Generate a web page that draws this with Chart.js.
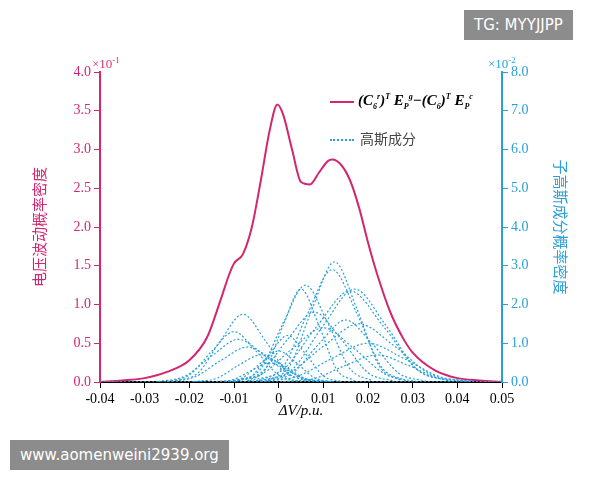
<!DOCTYPE html>
<html><head><meta charset="utf-8">
<script src="https://cdn.jsdelivr.net/npm/chart.js@4"></script>
<style>
body{margin:0;background:#fff;font-family:"Liberation Serif",serif}
#wrap{position:relative;width:600px;height:480px}
.tag{position:absolute;background:#8c8c8c;color:#fff;font-family:"DejaVu Sans",sans-serif;font-size:15px;padding:6px 10px}
.lab{position:absolute;font-size:13px}
</style></head>
<body><div id="wrap"><canvas id="c" width="600" height="480"></canvas>
<div class="tag" style="left:464px;top:10px">TG: MYYJJPP</div>
<div class="tag" style="left:10px;top:440px">www.aomenweini2939.org</div>
<div class="lab" style="left:92px;top:55px;color:#e0307a">×10<sup style="font-size:9px">-1</sup></div>
<div class="lab" style="left:488px;top:55px;color:#2aa0d8">×10<sup style="font-size:9px">-2</sup></div>
<div style="position:absolute;left:330px;top:92px;font-size:15px;font-style:italic;font-weight:bold;white-space:nowrap">
<span style="display:inline-block;width:24px;border-top:2px solid #d4266f;vertical-align:middle;margin-right:4px"></span>(<i>C</i><sub style="font-size:8px">6</sub><sup style="font-size:8px">r</sup>)<sup style="font-size:8px">T</sup> <i>E</i><sub style="font-size:8px">P</sub><sup style="font-size:8px">g</sup>−(<i>C</i><sub style="font-size:8px">6</sub>)<sup style="font-size:8px">T</sup> <i>E</i><sub style="font-size:8px">P</sub><sup style="font-size:8px">c</sup></div>
<div style="position:absolute;left:330px;top:128px;font-size:14px;font-family:'Noto Sans CJK SC';color:#444">
<span style="display:inline-block;width:24px;border-top:2px dotted #2aa0d8;vertical-align:middle;margin-right:6px"></span>高斯成分</div>
</div>
<script>
// main curve (x10^-1)
const mainX = [-0.04,-0.035,-0.03,-0.025,-0.02,-0.016,-0.013,-0.011,-0.01,-0.008,-0.006,-0.004,-0.002,-0.0003,0.001,0.003,0.005,0.007,0.009,0.011,0.012,0.014,0.016,0.018,0.02,0.022,0.025,0.028,0.03,0.035,0.04,0.045,0.05];
const mainY = [0.0,0.02,0.05,0.13,0.28,0.58,1.06,1.4,1.53,1.65,2.0,2.6,3.25,3.58,3.45,3.0,2.58,2.55,2.7,2.85,2.87,2.8,2.6,2.25,1.8,1.4,0.9,0.55,0.38,0.15,0.05,0.02,0.0];
// gaussian components (x10^-2)
const compX = [
[-0.023,-0.018,-0.013,-0.008,-0.003,0.002,0.007],
[-0.025,-0.02,-0.015,-0.01,-0.005,0,0.005],
[-0.027,-0.021,-0.015,-0.009,-0.003,0.003,0.009],
[-0.025,-0.019,-0.013,-0.007,-0.001,0.005,0.011],
[-0.019,-0.014,-0.009,-0.004,0.001,0.006,0.011],
[-0.009,-0.004,0.001,0.006,0.011,0.016,0.021],
[-0.007,-0.003,0.001,0.005,0.009,0.013,0.017],
[-0.0025,0.0025,0.0075,0.0125,0.0175,0.0225,0.0275],
[-0.0045,0.001,0.0065,0.012,0.0175,0.023,0.0285],
[-0.004,0.003,0.01,0.017,0.024,0.031,0.038],
[-0.0065,0.001,0.0085,0.016,0.0235,0.031,0.0385],
[-0.003,0.003,0.009,0.015,0.021,0.027,0.033],
[-0.006,0.002,0.01,0.018,0.026,0.034,0.042],
[-0.011,-0.004,0.003,0.01,0.017,0.024,0.031],
[-0.004,0.004,0.012,0.02,0.028,0.036,0.044],
[-0.01,-0.006,-0.002,0.002,0.006,0.01,0.014],
[-0.012,-0.008,-0.004,0,0.004,0.008,0.012],
[-0.01,-0.004,0.002,0.008,0.014,0.02,0.026],
[0.001,0.008,0.015,0.022,0.029,0.036,0.043],
[-0.014,-0.01,-0.006,-0.002,0.002,0.006,0.01]
];
const compY = [
[0.02,0.24,1.07,1.75,1.07,0.24,0.02],
[0.01,0.18,0.79,1.3,0.79,0.18,0.01],
[0.01,0.15,0.67,1.1,0.67,0.15,0.01],
[0.01,0.12,0.55,0.9,0.55,0.12,0.01],
[0.01,0.09,0.43,0.7,0.43,0.09,0.01],
[0.03,0.34,1.52,2.5,1.52,0.34,0.03],
[0.03,0.32,1.46,2.4,1.46,0.32,0.03],
[0.03,0.42,1.89,3.1,1.89,0.42,0.03],
[0.03,0.39,1.77,2.9,1.77,0.39,0.03],
[0.03,0.32,1.46,2.4,1.46,0.32,0.03],
[0.03,0.32,1.43,2.35,1.43,0.32,0.03],
[0.02,0.22,0.98,1.6,0.98,0.22,0.02],
[0.02,0.2,0.92,1.5,0.92,0.2,0.02],
[0.01,0.19,0.85,1.4,0.85,0.19,0.01],
[0.01,0.14,0.61,1.0,0.61,0.14,0.01],
[0.01,0.16,0.73,1.2,0.73,0.16,0.01],
[0.01,0.11,0.49,0.8,0.49,0.11,0.01],
[0.02,0.24,1.1,1.8,1.1,0.24,0.02],
[0.01,0.09,0.43,0.7,0.43,0.09,0.01],
[0.01,0.07,0.3,0.5,0.3,0.07,0.01]
];
const baseX = [-0.04,0.05];
const baseY = [0,0];

const PINK = '#d4266f', BLUE = '#2aa0d8';
const zip = (xs, ys) => xs.map((x, i) => ({x, y: ys[i]}));

const datasets = compX.map((xs, i) => ({
    data: zip(xs, compY[i]), yAxisID: 'y2', borderColor: BLUE, borderWidth: 1.2,
    borderDash: [2, 2], pointRadius: 0, cubicInterpolationMode: 'monotone'
}));
datasets.push({data: zip(baseX, baseY), yAxisID: 'y2', borderColor: BLUE, borderWidth: 1.5, borderDash: [2, 2], pointRadius: 0});
datasets.push({data: zip(mainX, mainY), yAxisID: 'y', borderColor: PINK, borderWidth: 2, pointRadius: 0, cubicInterpolationMode: 'monotone'});

const tickFont = {family: "'Liberation Serif', serif", size: 14};
new Chart(document.getElementById('c'), {
    type: 'line',
    data: {datasets},
    options: {
        responsive: false, animation: false,
        layout: {padding: {left: 30, right: 30, top: 72, bottom: 60}},
        plugins: {legend: {display: false}, tooltip: {enabled: false}},
        scales: {
            x: {
                type: 'linear', min: -0.04, max: 0.05,
                afterFit: s => { s.height = 38; },
                afterBuildTicks: s => { s.ticks = [-0.04,-0.03,-0.02,-0.01,0,0.01,0.02,0.03,0.04,0.05].map(v => ({value: v})); },
                ticks: {color: '#000', font: tickFont, autoSkip: false, maxRotation: 0, callback: v => v === 0 ? '0' : +v.toFixed(2)},
                grid: {drawOnChartArea: false, tickLength: 6, color: '#000'},
                border: {color: '#000', width: 2},
                title: {display: true, text: 'ΔV/p.u.', color: '#000', font: {family: "'Liberation Serif', serif", size: 15, style: 'italic'}, padding: 0}
            },
            y: {
                position: 'left', min: 0, max: 4,
                afterFit: s => { s.width = 70; },
                ticks: {stepSize: 0.5, color: PINK, font: tickFont, callback: v => v.toFixed(1)},
                grid: {drawOnChartArea: false, tickLength: 6, color: PINK},
                border: {color: PINK, width: 2},
                title: {display: true, text: '电压波动概率密度', color: PINK, font: {family: "'Noto Sans CJK SC'", size: 15}, padding: 0}
            },
            y2: {
                position: 'right', min: 0, max: 8,
                afterFit: s => { s.width = 68; },
                ticks: {stepSize: 1, color: BLUE, font: tickFont, callback: v => v.toFixed(1)},
                grid: {drawOnChartArea: false, tickLength: 6, color: BLUE},
                border: {color: BLUE, width: 2},
                title: {display: true, text: '子高斯成分概率密度', color: BLUE, font: {family: "'Noto Sans CJK SC'", size: 15}, padding: 0}
            }
        }
    }
});
</script></body></html>
